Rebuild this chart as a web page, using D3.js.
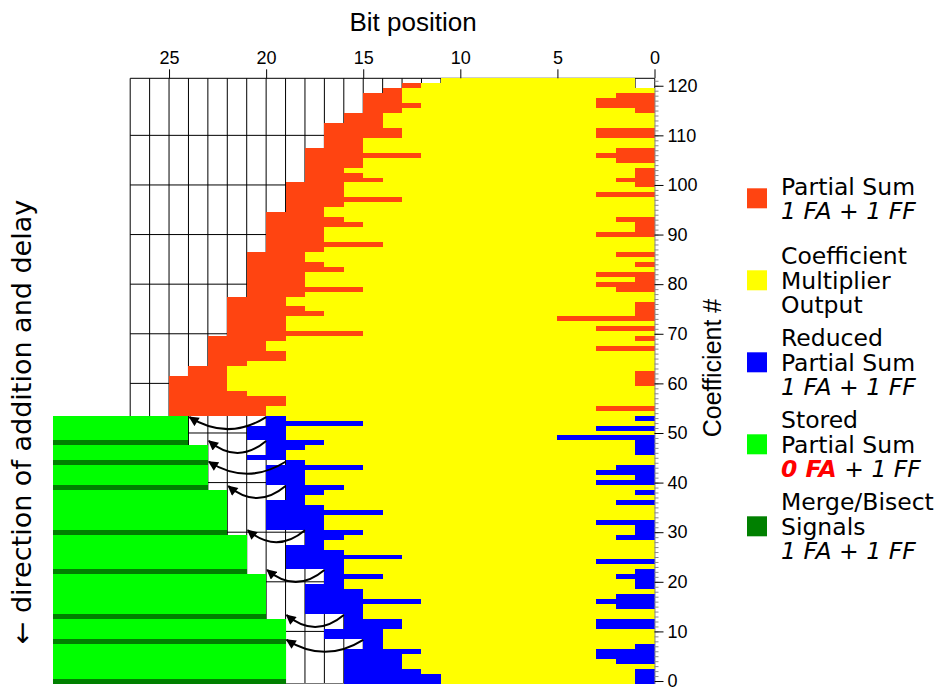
<!DOCTYPE html>
<html>
<head>
<meta charset="utf-8">
<script src="https://cdn.jsdelivr.net/npm/d3@7"></script>
<style>
body { margin: 0; background: #fff; }
svg { display: block; }
</style>
</head>
<body>
<svg class="figure" width="944" height="688"></svg>
<script>
// one entry per coefficient, index = coefficient # (0..121)
var coeffs = d3.range(122);

// lowest bit of the coefficient multiplier output (yellow)
var yellowLo = [
  1,1,1,0,2,3,3,1,0,0,
  0,3,3,0,0,2,3,2,0,1,
  1,2,1,0,3,0,0,0,0,2,
  1,1,3,0,0,0,2,0,1,0,
  3,1,3,2,0,0,1,1,1,5,
  0,3,0,1,0,3,0,0,0,0,
  1,1,1,0,0,0,0,3,0,1,
  0,3,0,5,1,1,1,0,0,2,
  3,1,3,0,1,0,2,0,0,0,
  3,1,1,2,0,0,0,0,3,0,
  1,2,1,1,0,2,3,2,0,0,
  3,3,0,0,0,1,3,3,2,0,
  1,1
];

// upper bit boundary of the multiplier output
var yellowHi = [
  11,11,12,13,13,13,12,14,14,14,
  14,13,13,15,15,15,12,15,15,16,
  16,14,16,16,16,13,16,17,17,16,
  15,17,17,17,14,17,18,18,17,16,
  18,18,18,15,18,19,19,18,17,19,
  19,19,15,19,20,20,19,19,21,22,
  22,22,22,22,21,19,19,20,20,19,
  15,19,19,19,17,18,19,19,18,15,
  18,18,18,16,17,18,18,17,14,17,
  17,17,15,16,17,17,16,13,16,16,
  16,14,15,16,15,15,12,15,15,15,
  13,13,14,14,14,13,12,13,13,13,
  12,11
];

// upper bit boundary of the (reduced) partial sum
var sumHi = [
  16,16,16,16,16,16,16,15,15,17,
  17,16,16,16,18,18,18,18,18,18,
  17,17,17,19,19,19,19,19,18,18,
  18,20,20,20,20,20,20,19,19,19,
  20,20,20,20,19,21,20,20,20,21,
  21,21,20,20,25,25,25,25,25,25,
  25,25,24,24,23,23,23,23,23,23,
  22,22,22,22,22,22,22,22,21,21,
  21,21,21,21,21,21,21,20,20,20,
  20,20,20,20,20,19,19,19,19,19,
  19,18,18,18,18,18,18,18,17,17,
  17,17,17,16,16,15,15,15,15,14,
  13,11
];

// rows whose partial sum has no bits below the multiplier output
var emptyLowRows = [120, 121];
// rows from here up are plain partial sums, below are reduced partial sums
var firstPartialRow = 54;

// stored partial sum, rows 0..53: reaches from bit 31 down to greenHi
var greenHi = [
  19,19,19,19,19,19,19,19,19,19,
  19,19,19,20,20,20,20,20,20,20,
  20,20,21,21,21,21,21,21,21,21,
  22,22,22,22,22,22,22,22,22,23,
  23,23,23,23,23,23,23,23,24,24,
  24,24,24,24
];
var mergeRows = [0, 8, 13, 22, 30, 39, 44, 48];

// curved arrows: row, start bit, end bit
var arrowRows = [53.2, 48.4, 44.2, 39.3, 30.4, 22.4, 13.3, 8.3];
var arrowFrom = [20, 20, 19, 19, 18, 17, 16, 15];
var arrowTo = [24, 23, 23, 22, 21, 20, 19, 19];

var bitTicks = [0, 5, 10, 15, 20, 25];
var coeffTicks = [0, 10, 20, 30, 40, 50, 60, 70, 80, 90, 100, 110, 120];
var gridRows = [10, 20, 30, 40, 50, 60, 70, 80, 90, 100, 110];

var legendColors = ["#ff4411", "#ffff00", "#0000ff", "#00ff00", "#008000"];
var legendLabels = [
  ["Partial Sum", "1 FA + 1 FF"],
  ["Coefficient", "Multiplier", "Output"],
  ["Reduced", "Partial Sum", "1 FA + 1 FF"],
  ["Stored", "Partial Sum", "0 FA + 1 FF"],
  ["Merge/Bisect", "Signals", "1 FA + 1 FF"]
];

var RED = legendColors[0], YELLOW = legendColors[1], BLUE = legendColors[2],
    GREEN = legendColors[3], DARK = legendColors[4];

var svg = d3.select("svg.figure");
var x = d3.scaleLinear().domain([0, 27]).range([654.5, 130.2]);
var y = d3.scaleLinear().domain([-0.5, 121.5]).range([683.5, 78.3]);
var rowH = y(0) - y(1);

function rowTop(c) { return y(c + 0.5); }

// grid behind everything
var grid = svg.append("g").attr("stroke", "#000").attr("stroke-width", 1);
grid.selectAll("line.v")
  .data(d3.range(28))
  .enter().append("line")
  .attr("x1", function(d) { return x(d); })
  .attr("x2", function(d) { return x(d); })
  .attr("y1", y(121.5))
  .attr("y2", y(-0.5));
grid.selectAll("line.h")
  .data(gridRows)
  .enter().append("line")
  .attr("x1", x(27)).attr("x2", x(0))
  .attr("y1", function(d) { return y(d); })
  .attr("y2", function(d) { return y(d); });
grid.append("line").attr("x1", x(27)).attr("x2", x(0)).attr("y1", y(121.5)).attr("y2", y(121.5));
grid.append("line").attr("x1", x(27)).attr("x2", x(0)).attr("y1", y(-0.5)).attr("y2", y(-0.5)).attr("stroke", "#777");

var cells = svg.append("g").attr("shape-rendering", "crispEdges");

// partial sum rows
cells.selectAll("rect.sum")
  .data(coeffs)
  .enter().append("rect")
  .attr("class", "sum")
  .attr("x", function(c) { return x(sumHi[c]); })
  .attr("y", rowTop)
  .attr("width", function(c) {
    var lo = emptyLowRows.indexOf(c) >= 0 ? yellowLo[c] : 0;
    return x(lo) - x(sumHi[c]);
  })
  .attr("height", rowH)
  .attr("fill", function(c) { return c >= firstPartialRow ? RED : BLUE; });

// coefficient multiplier outputs
cells.selectAll("rect.mult")
  .data(coeffs)
  .enter().append("rect")
  .attr("class", "mult")
  .attr("x", function(c) { return x(yellowHi[c]); })
  .attr("y", rowTop)
  .attr("width", function(c) { return x(yellowLo[c]) - x(yellowHi[c]); })
  .attr("height", rowH)
  .attr("fill", YELLOW);

// stored partial sums and merge/bisect signals
cells.selectAll("rect.store")
  .data(greenHi)
  .enter().append("rect")
  .attr("x", x(31))
  .attr("y", function(d, c) { return rowTop(c); })
  .attr("width", function(d) { return x(d) - x(31); })
  .attr("height", rowH)
  .attr("fill", function(d, c) { return mergeRows.indexOf(c) >= 0 ? DARK : GREEN; });

// arrows
svg.append("defs").append("marker")
  .attr("id", "head")
  .attr("viewBox", "0 -5 10 10")
  .attr("refX", 9)
  .attr("refY", 0)
  .attr("markerWidth", 11)
  .attr("markerHeight", 10)
  .attr("markerUnits", "userSpaceOnUse")
  .attr("orient", "auto")
  .append("path")
  .attr("d", "M0,-5L10,0L0,5Z")
  .attr("fill", "#000");

svg.append("g").selectAll("path")
  .data(arrowRows)
  .enter().append("path")
  .attr("d", function(r, i) {
    var x1 = x(arrowFrom[i]), x2 = x(arrowTo[i]) + 1, yy = y(r);
    return "M" + x1 + "," + yy + "Q" + ((x1 + x2) / 2) + "," + (yy + 24) + " " + x2 + "," + yy;
  })
  .attr("fill", "none")
  .attr("stroke", "#000")
  .attr("stroke-width", 2)
  .attr("marker-end", "url(#head)");

// top axis
var topAxis = svg.append("g")
  .attr("transform", "translate(0," + y(121.5) + ")")
  .call(d3.axisTop(x).tickValues(bitTicks).tickSize(9).tickPadding(5).tickSizeOuter(0));
topAxis.select(".domain").remove();
topAxis.selectAll("text").attr("font-family", "Liberation Sans").attr("font-size", 18).attr("fill", "#000");

// right axis, minor then major ticks
var minorAxis = svg.append("g")
  .attr("transform", "translate(" + x(0) + ",0)")
  .call(d3.axisRight(y).tickValues(coeffs).tickSize(4).tickFormat("").tickSizeOuter(0));
minorAxis.selectAll("line").attr("stroke", "#888");
minorAxis.select(".domain").attr("stroke", "#888");

var rightAxis = svg.append("g")
  .attr("transform", "translate(" + x(0) + ",0)")
  .call(d3.axisRight(y).tickValues(coeffTicks).tickSize(9).tickPadding(4).tickSizeOuter(0));
rightAxis.select(".domain").remove();
rightAxis.selectAll("text").attr("font-family", "Liberation Sans").attr("font-size", 18).attr("fill", "#000");

// titles
svg.append("text")
  .attr("x", 413).attr("y", 31)
  .attr("text-anchor", "middle")
  .attr("font-family", "Liberation Sans").attr("font-size", 26)
  .text("Bit position");

svg.append("text")
  .attr("transform", "translate(721,368) rotate(-90)")
  .attr("text-anchor", "middle")
  .attr("font-family", "Liberation Sans").attr("font-size", 25)
  .text("Coefficient #");

svg.append("text")
  .attr("transform", "translate(31,422) rotate(-90)")
  .attr("text-anchor", "middle")
  .attr("font-family", "DejaVu Sans").attr("font-size", 27)
  .text("\u2190 direction of addition and delay");

// legend
var legend = svg.append("g").attr("font-family", "DejaVu Sans").attr("font-size", 23.5);
legendColors.forEach(function(col, i) {
  var cy = 198.3 + 82 * i;
  legend.append("rect")
    .attr("x", 747).attr("y", cy - 10)
    .attr("width", 20).attr("height", 20)
    .attr("fill", col);
  var lines = legendLabels[i];
  lines.forEach(function(line, j) {
    var t = legend.append("text")
      .attr("x", 781)
      .attr("y", cy + (j - (lines.length - 1) / 2) * 24.5 + 8.5);
    if (line.indexOf("FA") < 0) {
      t.text(line);
    } else if (line.charAt(0) === "0") {
      t.append("tspan").attr("font-style", "italic").attr("font-weight", "bold").attr("fill", "#ff0000").text("0 FA");
      t.append("tspan").attr("font-style", "italic").text(line.slice(4));
    } else {
      t.attr("font-style", "italic").text(line);
    }
  });
});
</script>
</body>
</html>
